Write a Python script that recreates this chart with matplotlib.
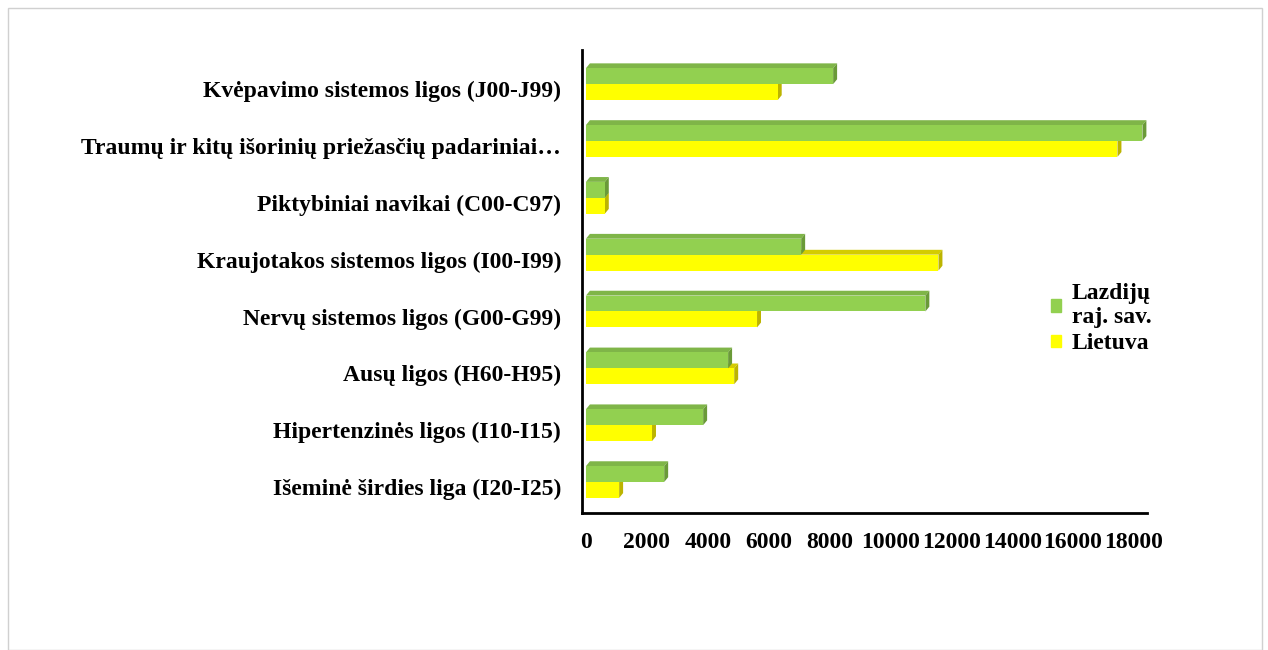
import matplotlib.pyplot as plt
import matplotlib.transforms as mtransforms
import numpy as np
from matplotlib.patches import Polygon, Rectangle

plt.rcParams['font.family'] = ['Liberation Serif', 'DejaVu Serif']
plt.rcParams['font.weight'] = 'bold'

categories = ['Išeminė širdies liga (I20-I25)',
              'Hipertenzinės ligos (I10-I15)',
              'Ausų ligos (H60-H95)',
              'Nervų sistemos ligos (G00-G99)',
              'Kraujotakos sistemos ligos (I00-I99)',
              'Piktybiniai navikai (C00-C97)',
              'Traumų ir kitų išorinių priežasčių padariniai…',
              'Kvėpavimo sistemos ligos (J00-J99)']
lazdiju = [2570, 3850, 4670, 11150, 7070, 620, 18280, 8120]
lietuva = [1090, 2170, 4870, 5620, 11580, 620, 17460, 6300]
xticks = [0, 2000, 4000, 6000, 8000, 10000, 12000, 14000, 16000, 18000]

green = '#92d050'
green_top = '#7fb548'
green_side = '#6a9a38'
yellow = '#ffff00'
yellow_top = '#d4cc00'
yellow_side = '#bcb400'

fig = plt.figure(figsize=(12.68, 6.5), dpi=100)
fig.patches.append(Rectangle((8 / 1268, 0.0), 1254 / 1268, 642 / 650, transform=fig.transFigure,
                             fill=False, edgecolor='#d0d0d0', linewidth=1))
ax = fig.add_axes([582 / 1268, 1 - 513 / 650, 565 / 1268, 463 / 650])

h = 0.28
dx = 130
dy = 0.085


def bar3d(x, y0, color, top, side):
    # front, top and side faces of a pseudo 3D bar
    ax.add_patch(Polygon([(0, y0 + h), (dx, y0 + h + dy), (x + dx, y0 + h + dy), (x, y0 + h)],
                         closed=True, facecolor=top, edgecolor='none'))
    ax.add_patch(Polygon([(x, y0), (x + dx, y0 + dy), (x + dx, y0 + h + dy), (x, y0 + h)],
                         closed=True, facecolor=side, edgecolor='none'))
    ax.add_patch(Rectangle((0, y0), x, h, facecolor=color, edgecolor='none'))


for i in range(len(categories)):
    bar3d(lietuva[i], i - h, yellow, yellow_top, yellow_side)
    bar3d(lazdiju[i], i, green, green_top, green_side)

ax.set_xlim(-130, 18430)
ax.set_ylim(-0.545, 7.6)
ax.set_yticks(range(len(categories)))
ax.set_yticklabels(categories, fontsize=17, fontweight='bold')
ax.set_xticks(xticks)
ax.set_xticklabels([str(t) for t in xticks], fontsize=17, fontweight='bold')
ax.tick_params(axis='both', length=0)
ax.tick_params(axis='y', pad=15)
ax.tick_params(axis='x', pad=14)
# labels sit a little below the category centre
shift = mtransforms.ScaledTranslation(0, -5 / 100, fig.dpi_scale_trans)
for lab in ax.get_yticklabels():
    lab.set_transform(lab.get_transform() + shift)
for s in ['top', 'right']:
    ax.spines[s].set_visible(False)
ax.spines['left'].set_linewidth(2)
ax.spines['bottom'].set_linewidth(2)

ax.legend(handles=[Rectangle((0, 0), 1, 1, color=green), Rectangle((0, 0), 1, 1, color=yellow)],
          labels=['Lazdijų\nraj. sav.', 'Lietuva'],
          loc='upper left', bbox_to_anchor=(1030 / 1268, 1 - 262 / 650), bbox_transform=fig.transFigure,
          frameon=False, handlelength=0.42, handleheight=0.42, handletextpad=0.45,
          labelspacing=0.2, prop={'weight': 'bold', 'size': 17})

fig.savefig('out.png', dpi=100)
